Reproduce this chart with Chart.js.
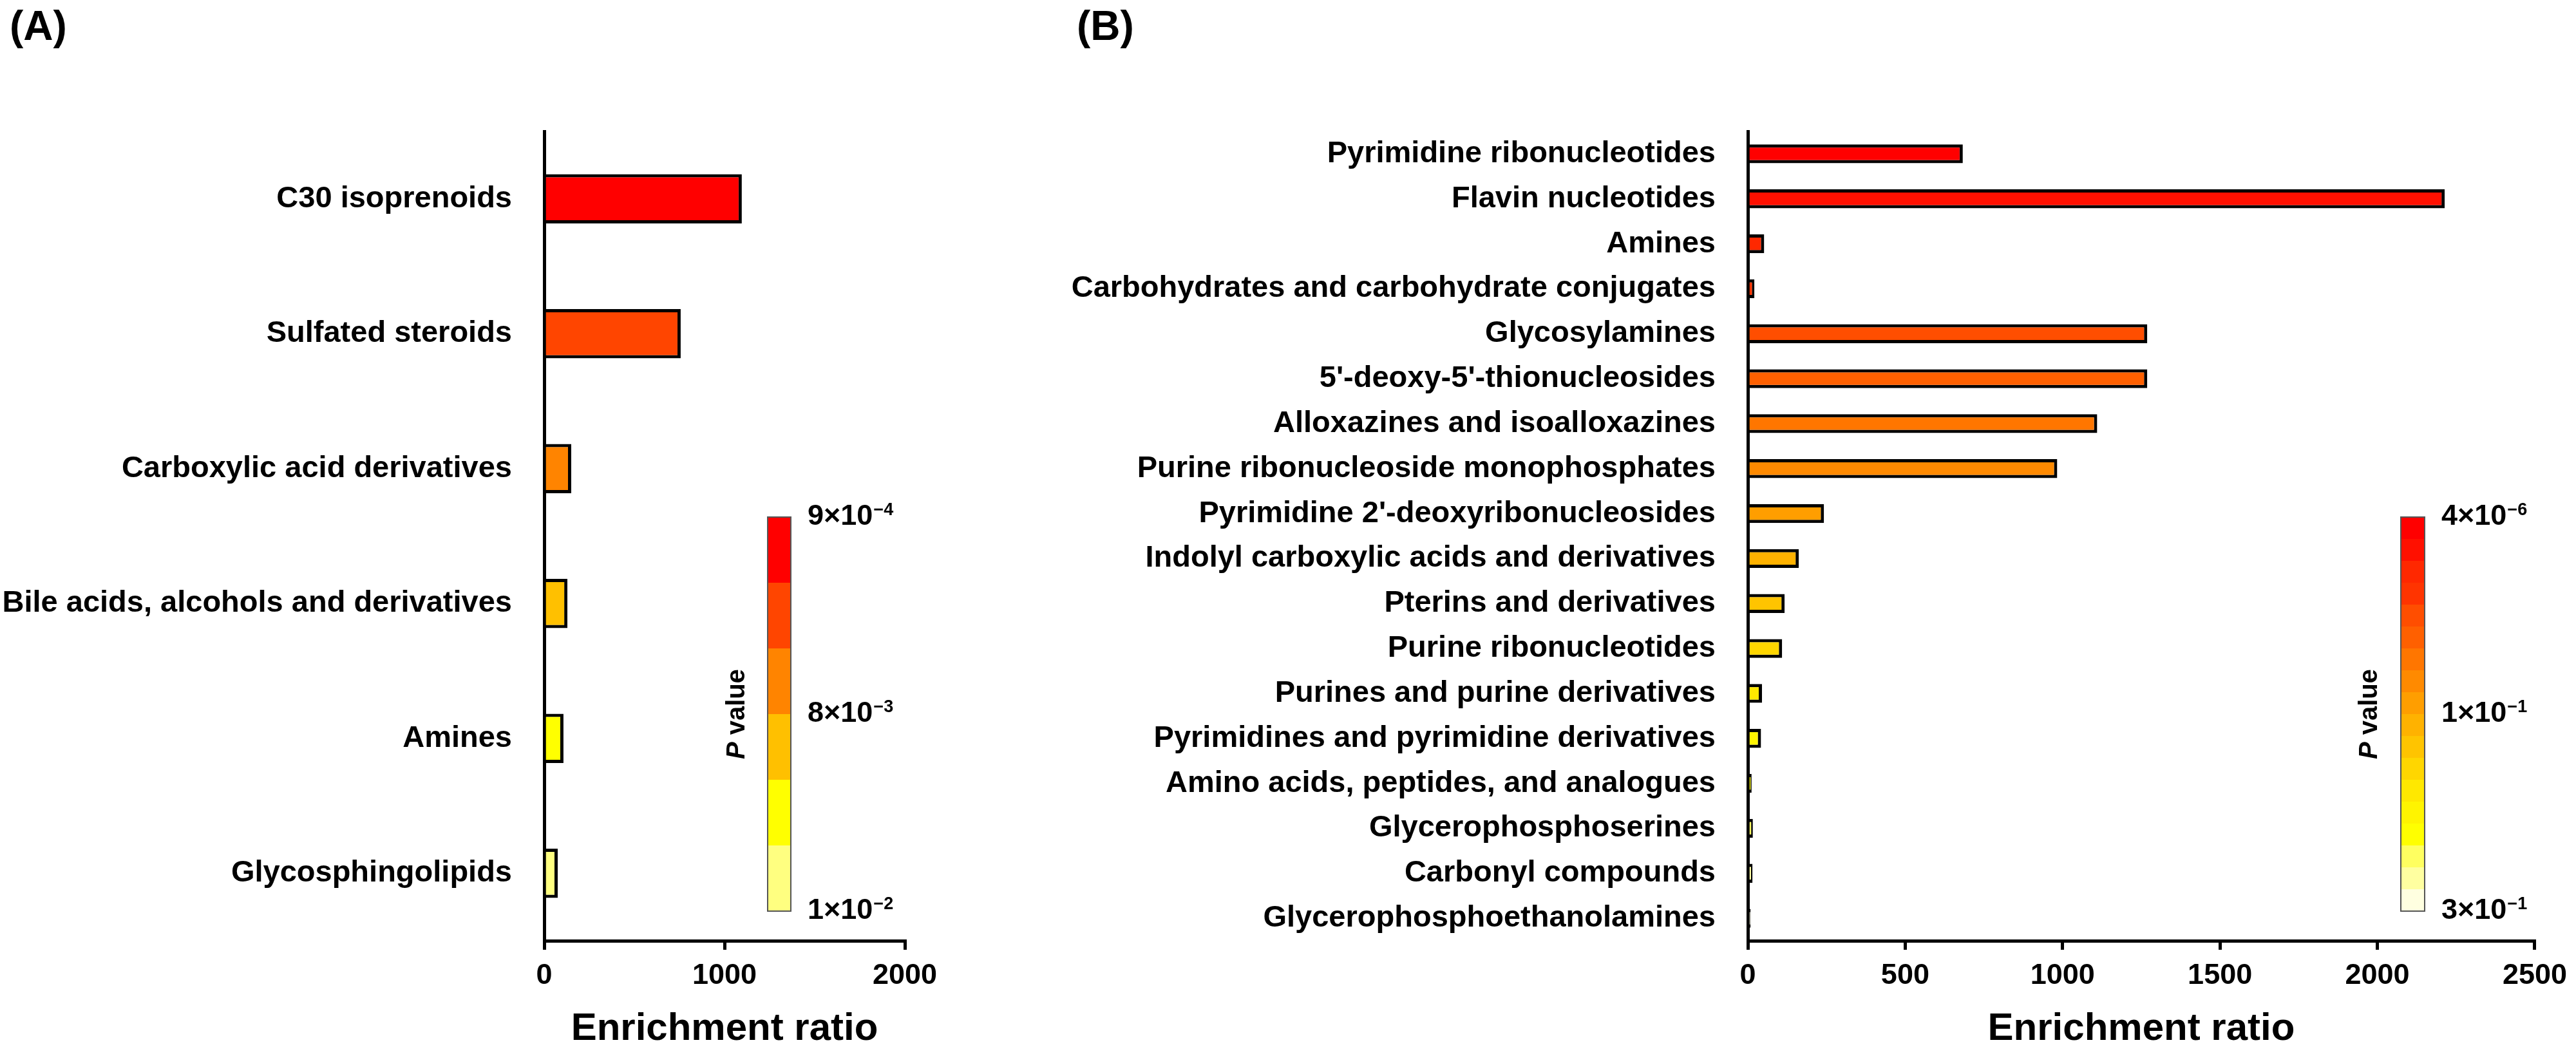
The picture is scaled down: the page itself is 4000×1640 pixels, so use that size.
<!DOCTYPE html>
<html>
<head>
<meta charset="utf-8">
<title>Enrichment ratio</title>
<script src="https://cdn.jsdelivr.net/npm/chart.js@4.4.1/dist/chart.umd.min.js"></script>
<style>
    html, body { margin: 0; padding: 0; background: #fff; }
    #page { position: relative; width: 4000px; height: 1640px; }
    .panel { position: absolute; top: 0; height: 1640px; }
    #panelA { left: 0; width: 1650px; }
    #panelB { left: 1650px; width: 2350px; }
</style>
</head>
<body>
<div id="page">
    <div class="panel" id="panelA"><canvas id="chartA"></canvas></div>
    <div class="panel" id="panelB"><canvas id="chartB"></canvas></div>
</div>
<script>
// ---- Panel A data ----
const classesA = [
    'C30 isoprenoids',
    'Sulfated steroids',
    'Carboxylic acid derivatives',
    'Bile acids, alcohols and derivatives',
    'Amines',
    'Glycosphingolipids'
];
const ratioA = [1096, 757, 150, 129, 107, 75];
const colorsA = ['#FF0000', '#FF4500', '#FF8400', '#FFC000', '#FFFF00', '#FFFF80'];
const pLabelsA = [['9\u00D710', '\u22124'], ['8\u00D710', '\u22123'], ['1\u00D710', '\u22122']];
const maxA = 2000;
const stepA = 1000;

// ---- Panel B data ----
const classesB = [
    'Pyrimidine ribonucleotides',
    'Flavin nucleotides',
    'Amines',
    'Carbohydrates and carbohydrate conjugates',
    'Glycosylamines',
    "5'-deoxy-5'-thionucleosides",
    'Alloxazines and isoalloxazines',
    'Purine ribonucleoside monophosphates',
    "Pyrimidine 2'-deoxyribonucleosides",
    'Indolyl carboxylic acids and derivatives',
    'Pterins and derivatives',
    'Purine ribonucleotides',
    'Purines and purine derivatives',
    'Pyrimidines and pyrimidine derivatives',
    'Amino acids, peptides, and analogues',
    'Glycerophosphoserines',
    'Carbonyl compounds',
    'Glycerophosphoethanolamines'
];
const ratioB = [683, 2214, 52, 21, 1269, 1269, 1110, 983, 242, 162, 117, 109, 45, 42, 12, 16, 15, 9];
const colorsB = [
    '#FF0000', '#FF1000', '#FF2800', '#FF3400', '#FF4E00', '#FF6000',
    '#FF7600', '#FF8A00', '#FF9E00', '#FFB200', '#FFC400', '#FFD600',
    '#FFE800', '#FFF400', '#FFFF00', '#FFFF60', '#FFFFA0', '#FFFFE0'
];
const pLabelsB = [['4\u00D710', '\u22126'], ['1\u00D710', '\u22121'], ['3\u00D710', '\u22121']];
const maxB = 2500;
const stepB = 500;

const FONT = '"Liberation Sans", Arial, Helvetica, sans-serif';

// colour key, panel letter and "P value" title drawn on top of each chart
function pValueKey(key) {
    return {
        id: 'pValueKey',
        afterDraw(chart) {
            const ctx = chart.ctx;
            ctx.save();

            ctx.fillStyle = '#000';
            ctx.textAlign = 'left';
            ctx.textBaseline = 'alphabetic';
            ctx.font = 'bold 64px ' + FONT;
            ctx.fillText(key.letter, key.letterX, 62);

            const h = key.bottom - key.top;
            const band = h / key.colors.length;
            key.colors.forEach((c, i) => {
                ctx.fillStyle = c;
                ctx.fillRect(key.x, key.top + i * band, key.width, band + 0.6);
            });
            ctx.strokeStyle = '#555';
            ctx.lineWidth = 2;
            ctx.strokeRect(key.x, key.top, key.width, h);

            ctx.fillStyle = '#000';
            ctx.textBaseline = 'middle';
            key.labels.forEach((lab, i) => {
                const y = key.top + i * h / (key.labels.length - 1);
                const lx = key.x + key.width + 26;
                ctx.font = 'bold 45px ' + FONT;
                ctx.fillText(lab[0], lx, y);
                const w = ctx.measureText(lab[0]).width;
                ctx.font = 'bold 27px ' + FONT;
                ctx.fillText(lab[1], lx + w + 1, y - 10);
            });

            ctx.translate(key.titleX, key.top + h / 2);
            ctx.rotate(-Math.PI / 2);
            ctx.font = 'italic bold 40px ' + FONT;
            const wp = ctx.measureText('P').width;
            ctx.font = 'bold 40px ' + FONT;
            const wv = ctx.measureText(' value').width;
            const start = -(wp + wv) / 2;
            ctx.font = 'italic bold 40px ' + FONT;
            ctx.fillText('P', start, 0);
            ctx.font = 'bold 40px ' + FONT;
            ctx.fillText(' value', start + wp, 0);

            ctx.restore();
        }
    };
}

const Charts = {
    charts: {},

    init() {
        if (typeof Chart === 'undefined') {
            setTimeout(() => this.init(), 100);
            return;
        }
        Chart.defaults.font.family = FONT;
        Chart.defaults.color = '#000';

        this.createPanelA();
        this.createPanelB();
    },

    barOptions(yWidth, xMax, xStep, padRight) {
        return {
            indexAxis: 'y',
            responsive: true,
            maintainAspectRatio: false,
            animation: false,
            layout: {
                padding: { top: 204, right: padRight, bottom: 0, left: 0 }
            },
            plugins: {
                legend: { display: false },
                tooltip: { enabled: false }
            },
            scales: {
                y: {
                    type: 'category',
                    grid: { display: false },
                    border: { display: true, color: '#000', width: 5 },
                    ticks: {
                        autoSkip: false,
                        padding: 42,
                        color: '#000',
                        font: { size: 47, weight: 'bold' }
                    },
                    afterFit(scale) {
                        scale.width = yWidth;
                    }
                },
                x: {
                    min: 0,
                    max: xMax,
                    ticks: {
                        stepSize: xStep,
                        padding: 14,
                        color: '#000',
                        font: { size: 45, weight: 'bold' },
                        callback: function(value) {
                            return String(value);
                        }
                    },
                    grid: {
                        display: true,
                        drawOnChartArea: false,
                        drawTicks: true,
                        tickLength: 14,
                        lineWidth: 5,
                        color: '#000'
                    },
                    border: { display: true, color: '#000', width: 5 },
                    title: {
                        display: true,
                        text: 'Enrichment ratio',
                        color: '#000',
                        font: { size: 60, weight: 'bold' },
                        padding: { top: 0, bottom: 6 }
                    },
                    afterFit(scale) {
                        scale.height = 179;
                    }
                }
            }
        };
    },

    createPanelA() {
        const ctx = document.getElementById('chartA');
        if (!ctx) return;

        this.charts.a = new Chart(ctx, {
            type: 'bar',
            data: {
                labels: classesA,
                datasets: [{
                    data: ratioA,
                    backgroundColor: colorsA,
                    borderColor: '#000',
                    borderWidth: 5,
                    barPercentage: 0.365,
                    categoryPercentage: 1
                }]
            },
            options: this.barOptions(845, maxA, stepA, 245),
            plugins: [pValueKey({
                letter: '(A)', letterX: 15,
                x: 1192, width: 36, top: 803, bottom: 1415,
                colors: colorsA, labels: pLabelsA, titleX: 1145
            })]
        });
    },

    createPanelB() {
        const ctx = document.getElementById('chartB');
        if (!ctx) return;

        this.charts.b = new Chart(ctx, {
            type: 'bar',
            data: {
                labels: classesB,
                datasets: [{
                    data: ratioB,
                    backgroundColor: colorsB,
                    borderColor: '#000',
                    borderWidth: 5,
                    barPercentage: 0.42,
                    categoryPercentage: 1
                }]
            },
            options: this.barOptions(1064, maxB, stepB, 62),
            plugins: [pValueKey({
                letter: '(B)', letterX: 22,
                x: 2078, width: 37, top: 803, bottom: 1415,
                colors: colorsB, labels: pLabelsB, titleX: 2030
            })]
        });
    }
};

if (document.readyState === 'loading') {
    document.addEventListener('DOMContentLoaded', () => Charts.init());
} else {
    Charts.init();
}
</script>
</body>
</html>
